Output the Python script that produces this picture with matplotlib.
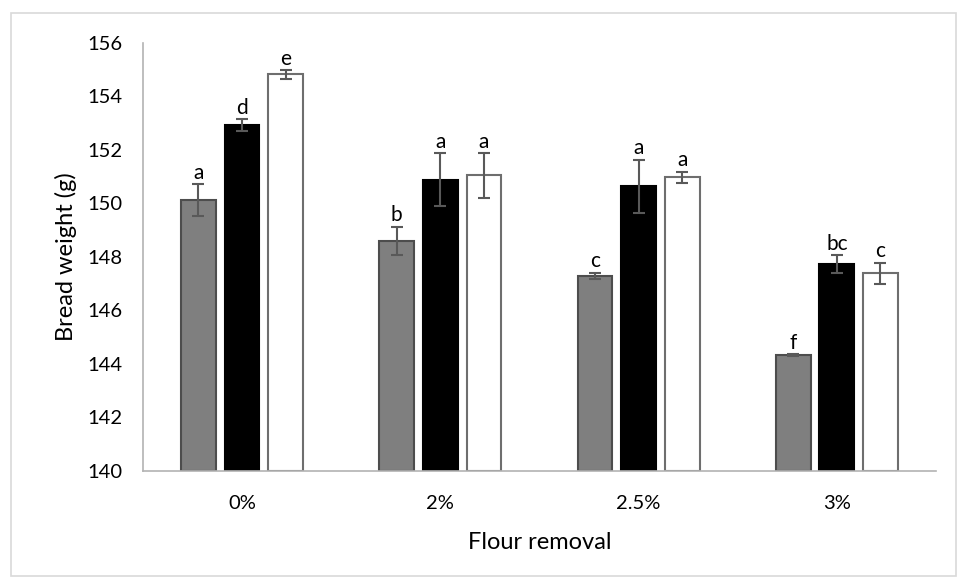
import matplotlib.pyplot as plt
import matplotlib.patches as patches
import numpy as np

plt.rcParams['font.family'] = ['Lato', 'DejaVu Sans']

categories = ["0%", "2%", "2.5%", "3%"]

gray_vals = [150.13, 148.61, 147.29, 144.34]
gray_err = [0.60, 0.52, 0.12, 0.03]
gray_letters = ["a", "b", "c", "f"]

black_vals = [152.93, 150.88, 150.64, 147.73]
black_err = [0.23, 0.99, 1.00, 0.33]
black_letters = ["d", "a", "a", "bc"]

white_vals = [154.83, 151.05, 150.98, 147.39]
white_err = [0.16, 0.83, 0.20, 0.39]
white_letters = ["e", "a", "a", "c"]

fig = plt.figure(figsize=(9.57, 5.80), dpi=100)
ax = fig.add_axes([0.1494, 0.188, 0.8286, 0.738])

# light frame round the whole chart, like the Excel chart area
fig.patches.append(patches.Rectangle((11 / 957, 4 / 580), 945 / 957, 563 / 580,
                                     transform=fig.transFigure, fill=False,
                                     edgecolor='#d9d9d9', linewidth=1.2))

x = np.arange(len(categories))
w = 0.175
step = 0.22

series = [
    (gray_vals, gray_err, gray_letters, '#7f7f7f', '#4d4d4d'),
    (black_vals, black_err, black_letters, '#000000', '#000000'),
    (white_vals, white_err, white_letters, '#ffffff', '#6e6e6e'),
]

for i, (vals, errs, letters, fc, ec) in enumerate(series):
    pos = x + (i - 1) * step
    ax.bar(pos, np.array(vals) - 140, width=w, bottom=140, color=fc,
           edgecolor=ec, linewidth=1.5, zorder=2)
    ax.errorbar(pos, vals, yerr=errs, fmt='none', ecolor='#595959',
                elinewidth=1.5, capsize=4, capthick=1.5, zorder=3)
    for p, v, e, t in zip(pos, vals, errs, letters):
        ax.annotate(t, (p, v + e), xytext=(0, 1), textcoords='offset points',
                    ha='center', va='bottom', fontsize=15)

ax.set_ylim(140, 156)
ax.set_xlim(-0.5, 3.5)
ax.set_yticks(np.arange(140, 157, 2))
ax.set_xticks(x)
ax.set_xticklabels(categories)
ax.tick_params(axis='both', length=0, labelsize=14.5)
ax.tick_params(axis='y', pad=15)
ax.tick_params(axis='x', pad=17)

for s in ['top', 'right']:
    ax.spines[s].set_visible(False)
for s in ['left', 'bottom']:
    ax.spines[s].set_color('#b3b3b3')
    ax.spines[s].set_linewidth(1.2)

ax.set_ylabel('Bread weight (g)', fontsize=17, labelpad=7)
ax.set_xlabel('Flour removal', fontsize=17, labelpad=15)

fig.savefig('out.png', dpi=100)
